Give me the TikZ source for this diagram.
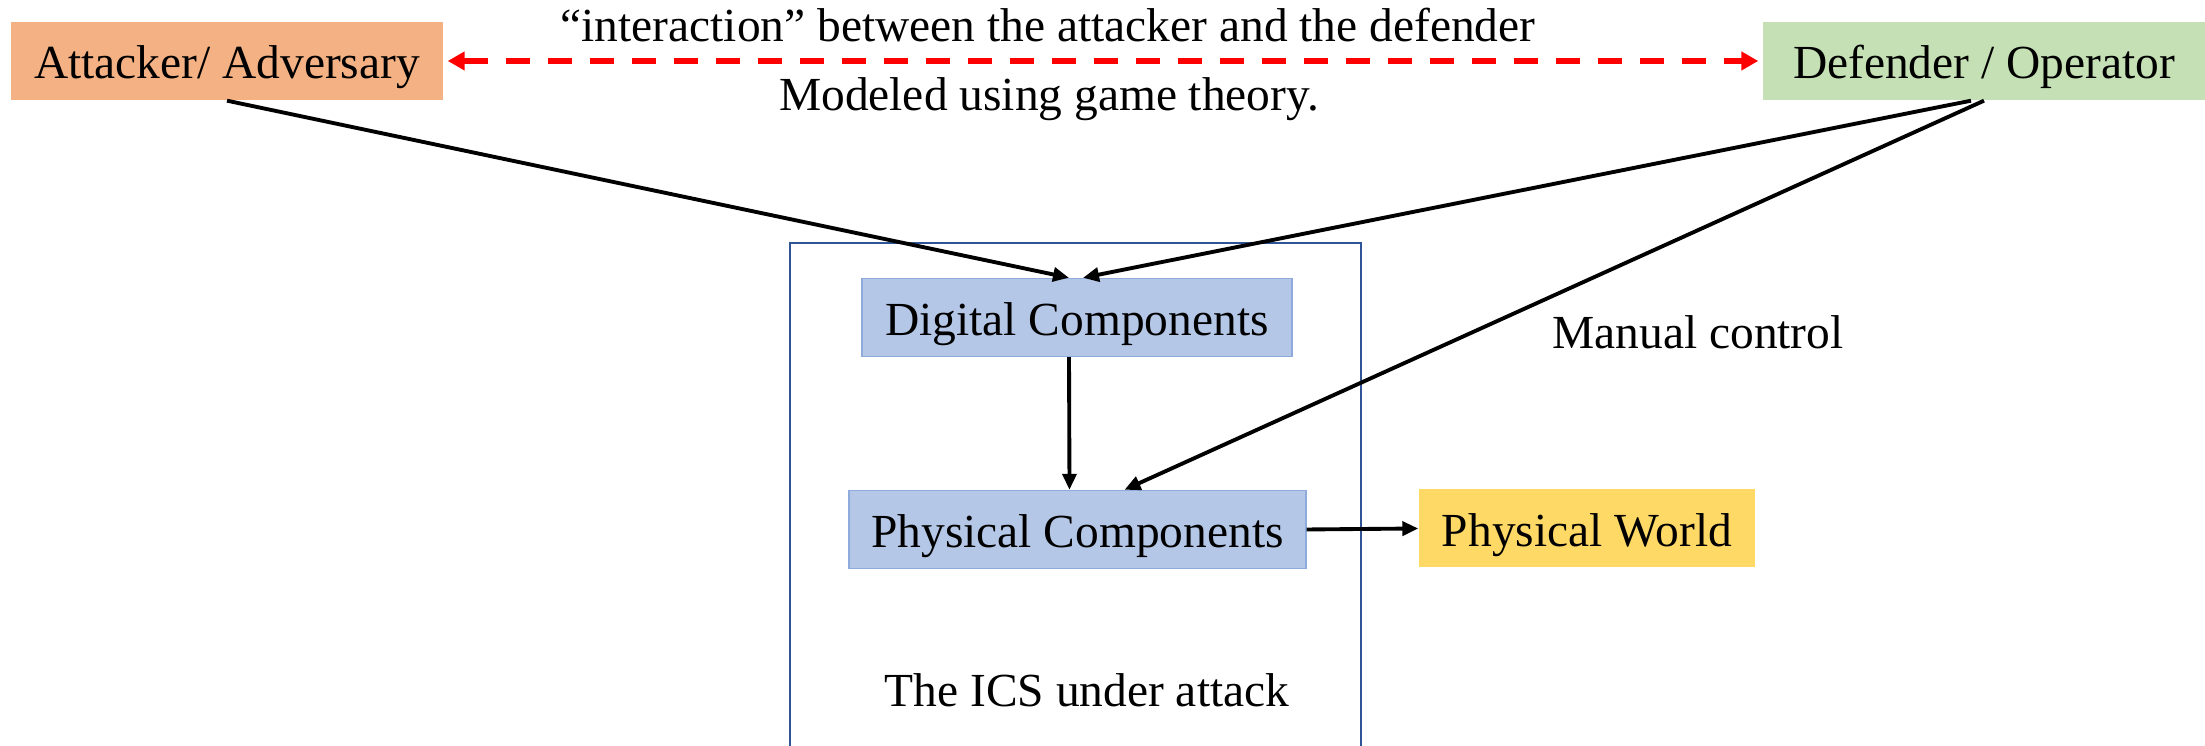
\documentclass[tikz,border=0pt]{standalone}
\usepackage{fontspec}
\setmainfont{Liberation Serif}
\usepackage{xcolor}
\usepackage{tikz}
\usetikzlibrary{arrows.meta}

\definecolor{attorange}{HTML}{F4B183}
\definecolor{defgreen}{HTML}{C5E0B4}
\definecolor{compblue}{HTML}{B4C7E7}
\definecolor{compedge}{HTML}{8FAADC}
\definecolor{worldyellow}{HTML}{FFD966}
\definecolor{icsblue}{HTML}{2F5597}

\begin{document}
\begin{tikzpicture}[>={Triangle[length=1.6mm, width=1.4mm]}, font=\fontsize{13.5}{16}\selectfont,
      player/.style={inner sep=0pt, minimum height=0.78cm, text height=11pt, text depth=1pt, align=center},
      comp/.style={draw=compedge, line width=0.4pt, fill=compblue, inner sep=0pt, minimum height=0.78cm, text height=11pt, text depth=1pt, align=center},
      link/.style={->, line width=1.1pt},
      label/.style={inner sep=0pt, align=center}]
    \useasboundingbox (0,0) rectangle (22.05,7.46);
    % --- the two players ---
    \node[player, fill=attorange, minimum width=4.32cm] (attacker) at (2.27,6.85) {Attacker/ Adversary};
    \node[player, fill=defgreen, minimum width=4.42cm] (defender) at (19.84,6.85) {Defender / Operator};
    \draw[{Triangle[length=1.7mm, width=1.8mm]}-{Triangle[length=1.7mm, width=1.8mm]}, red, line width=1.7pt, dash pattern=on 0.24cm off 0.18cm]
      ([xshift=0.4mm]attacker.east) -- ([xshift=-0.4mm]defender.west);
    \node[label] (inter) at (10.48,7.21) {``interaction'' between the attacker and the defender};
    \node[label] (game) at (10.49,6.47) {Modeled using game theory.};
    % --- the ICS ---
    \draw[icsblue, line width=0.7pt] (7.90,-0.5) rectangle (13.61,5.03);
    \node[comp, minimum width=4.30cm] (digital) at (10.77,4.285) {Digital Components};
    \node[comp, minimum width=4.57cm] (physical) at (10.775,2.165) {Physical Components};
    \node[player, fill=worldyellow, minimum width=3.36cm] (world) at (15.87,2.175) {Physical World};
    \node[label] (ics) at (10.87,0.56) {The ICS under attack};
    \node[label] (manual) at (16.98,4.14) {Manual control};
    % --- connectors ---
    \draw[link] (attacker.south) -- ([xshift=-0.8mm]digital.north);
    \draw[link] ([xshift=-1.3mm]defender.south) -- ([xshift=0.6mm]digital.north);
    \draw[link] (defender.south) -- ([xshift=4.7mm]physical.north);
    \draw[link] ([xshift=-0.8mm]digital.south) -- ([xshift=-0.8mm]physical.north);
    \draw[link] (physical.east) -- (world.west);
  \end{tikzpicture}
\end{document}
